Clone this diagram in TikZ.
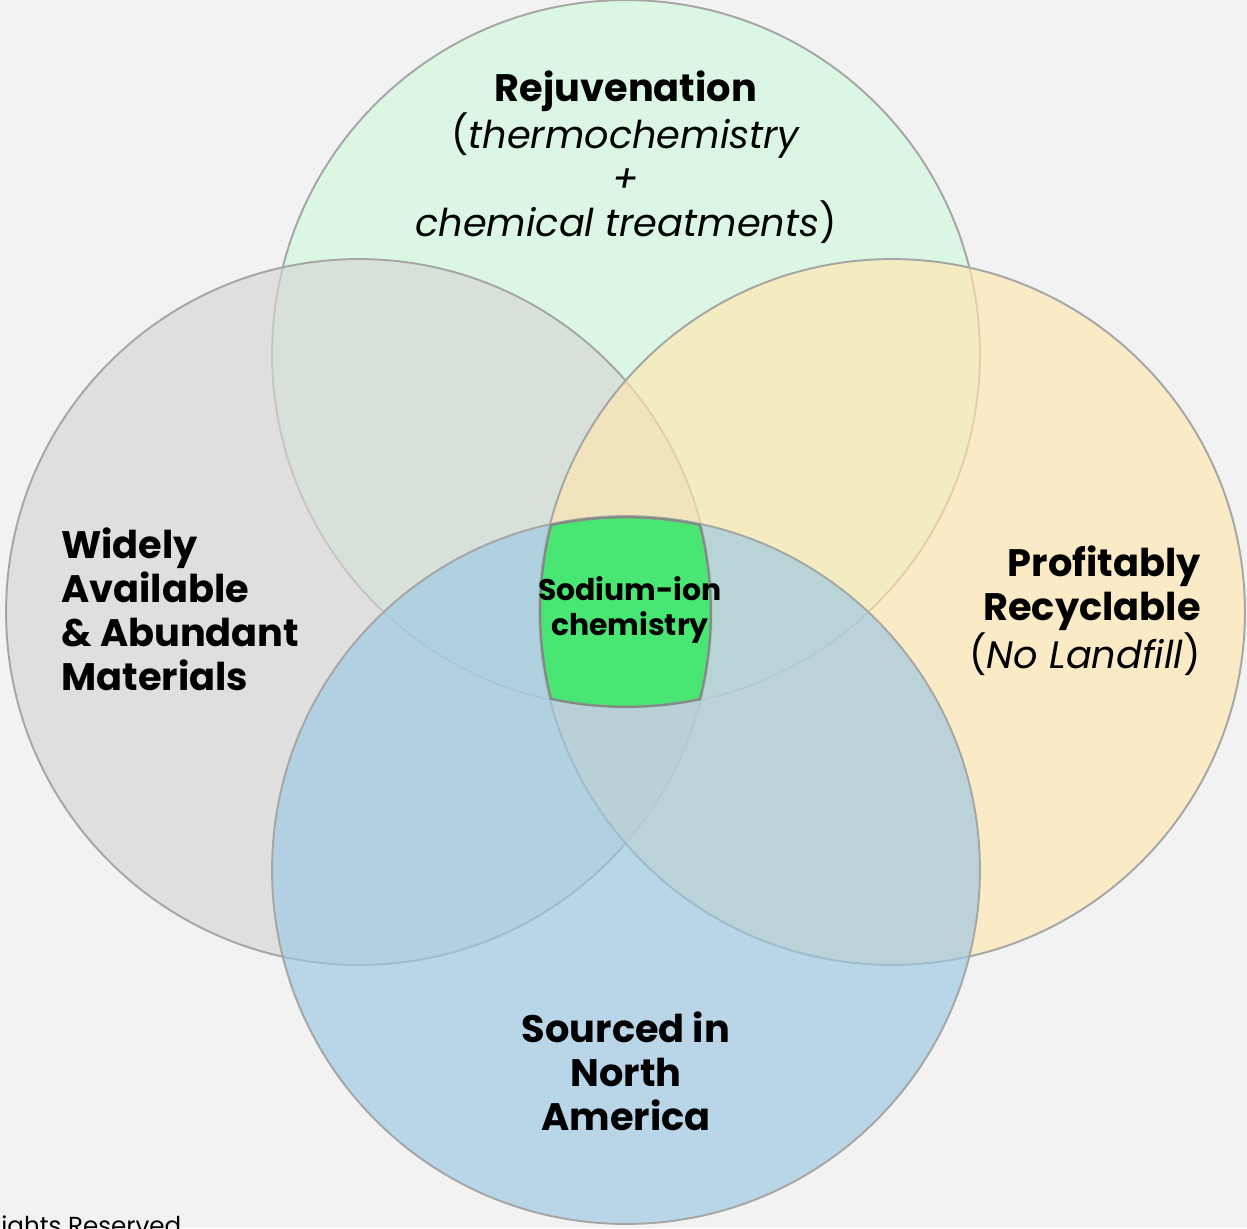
\documentclass[tikz,border=0pt]{standalone}
\usepackage{fontspec}
\setmainfont{Poppins}
\definecolor{bgcol}{HTML}{F2F2F2}
\definecolor{ringline}{HTML}{A6A6A6}
\definecolor{greenring}{RGB}{208,251,220}
\definecolor{grayring}{RGB}{214,214,214}
\definecolor{yellowring}{RGB}{255,231,174}
\definecolor{bluering}{RGB}{154,200,227}
\definecolor{corefill}{HTML}{4AE673}
\definecolor{coreline}{HTML}{888888}
\begin{document}
\begin{tikzpicture}[x=0.02cm, y=-0.02cm,
            ring/.style = {draw=ringline, line width=1.1pt, fill opacity=0.65},
            big/.style = {font=\fontsize{21.8}{25}\selectfont, text=black, inner sep=0pt},
            core/.style = {font=\fontsize{17}{20.4}\selectfont\bfseries, align=center, inner sep=0pt}]
                \path[use as bounding box, fill=bgcol] (0,0) rectangle (1247,1228);

                % the four sets
                \draw[ring, fill=greenring] (626,354) circle[radius=7.08cm];
                \draw[ring, fill=grayring] (359,612) circle[radius=7.06cm];
                \draw[ring, fill=yellowring] (892,612) circle[radius=7.06cm];
                \draw[ring, fill=bluering] (626,870) circle[radius=7.08cm];

                % where all four meet
                \begin{scope}
                    \clip (626,354) circle[radius=7.08cm];
                    \clip (359,612) circle[radius=7.06cm];
                    \clip (892,612) circle[radius=7.06cm];
                    \clip (626,870) circle[radius=7.08cm];
                    \fill[corefill] (500,480) rectangle (760,740);
                    \draw[coreline, line width=2.6pt] (626,354) circle[radius=7.08cm];
                    \draw[coreline, line width=2.6pt] (359,612) circle[radius=7.06cm];
                    \draw[coreline, line width=2.6pt] (892,612) circle[radius=7.06cm];
                    \draw[coreline, line width=2.6pt] (626,870) circle[radius=7.08cm];
                \end{scope}

                \node[big, align=center] (rejuv) at (626,157)
                    {\bfseries Rejuvenation\\(\textit{thermochemistry}\\\textit{+}\\\textit{chemical treatments})};
                \node[big, align=left, anchor=west] (widely) at (61,609)
                    {\bfseries Widely\\\bfseries Available\\\bfseries \& Abundant\\\bfseries Materials};
                \node[big, align=right, anchor=east] (profit) at (1201,611)
                    {\bfseries Profitably\\\bfseries Recyclable\\(\textit{No Landfill})};
                \node[big, align=center] (sourced) at (626,1071)
                    {\bfseries Sourced in\\\bfseries North\\\bfseries America};
                \node[core] (sodium) at (630,610) {Sodium-ion\\chemistry};

                \node[font=\fontsize{14}{16}\selectfont, anchor=base west, inner sep=0pt] (rights) at (1,1234) {ights Reserved};
        \end{tikzpicture}
\end{document}
